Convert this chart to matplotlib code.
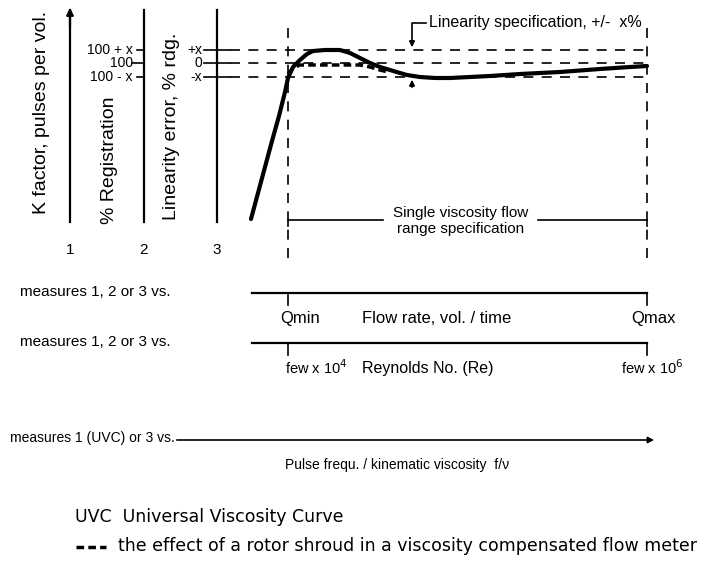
import matplotlib
matplotlib.use("Agg")
import matplotlib.pyplot as plt

plt.rcParams['font.family'] = ['Liberation Sans', 'DejaVu Sans']

# diagram coordinates are in pixels of the 707 x 569 picture (y grows downwards)
AXIS_X = [70, 144, 217]
AXIS_NUMBERS = ['1', '2', '3']
AXIS_TITLES = ['K factor, pulses per vol.', '% Registration', 'Linearity error, % rdg.']
AXIS_TITLE_POS = [(42, 112), (110, 160), (171, 126)]

REG_LEVELS = [50, 63, 77]
REG_LABELS = ['100 + x', '100', '100 - x']
LIN_LABELS = ['+x', '0', '-x']

# universal viscosity curve (solid)
uvc_x = [251, 258, 265, 272, 279, 285, 288, 293, 300, 307, 313, 325, 340, 350, 360,
         370, 380, 390, 400, 407, 420, 435, 450, 470, 490, 520, 560, 600, 630, 647]
uvc_y = [219, 193, 167, 141, 116, 92, 78, 67, 60, 54, 51, 50, 50, 53, 58,
         63, 67, 70, 73, 75, 77, 78, 78, 77, 76, 74, 72, 69, 67, 66]

# rotor shroud effect (dashed)
shroud_x = [288, 293, 300, 320, 345, 360, 370, 380, 388]
shroud_y = [74, 68, 65, 65, 65, 65, 67, 70, 72]

Q_MIN_X, Q_MAX_X = 288, 647
ROW_Y = [293, 343]
ROW_TEXT = ['measures 1, 2 or 3 vs.', 'measures 1, 2 or 3 vs.']
ROW_LOW = ['Qmin', 'few x 10$^4$']
ROW_MID = ['Flow rate, vol. / time', 'Reynolds No. (Re)']
ROW_HIGH = ['Qmax', 'few x 10$^6$']

fig = plt.figure(figsize=(7.07, 5.69), dpi=100)
ax = fig.add_axes([0, 0, 1, 1])
ax.set_xlim(0, 707)
ax.set_ylim(569, 0)
ax.axis('off')

k = dict(color='black')
dash = (0, (6, 5))

# three vertical axes
for x, n in zip(AXIS_X, AXIS_NUMBERS):
    ax.plot([x, x], [222, 10], lw=1.6, **k)
    ax.text(x, 250, n, ha='center', va='center', fontsize=11)
ax.annotate('', xy=(70, 5), xytext=(70, 30),
            arrowprops=dict(arrowstyle='-|>', color='black', lw=1.6, mutation_scale=10))
for (x, y), t in zip(AXIS_TITLE_POS, AXIS_TITLES):
    ax.text(x, y, t, rotation=90, ha='center', va='center', fontsize=14)

# tick labels on axis 2 and 3
for y, rl, ll in zip(REG_LEVELS, REG_LABELS, LIN_LABELS):
    ax.text(133, y, rl, ha='right', va='center', fontsize=10)
    ax.plot([132 if rl == '100' else 137, 144], [y, y], lw=1.2, **k)
    ax.text(202, y, ll, ha='right', va='center', fontsize=10)
    ax.plot([204, 230], [y, y], lw=1.2, **k)
    ax.plot([230, 647], [y, y], lw=1.2, ls=dash, **k)

# limits of the flow range
for x in [Q_MIN_X, Q_MAX_X]:
    ax.plot([x, x], [28, 266], lw=1.2, ls=dash, **k)

# curves
ax.plot(uvc_x, uvc_y, lw=3, solid_capstyle='round', solid_joinstyle='round', **k)
ax.plot(shroud_x, shroud_y, lw=2.5, ls=(0, (2.2, 1.2)), **k)

# linearity specification callout
ax.plot([426, 412, 412], [23, 23, 40], lw=1.2, **k)
ax.annotate('', xy=(412, 50), xytext=(412, 38),
            arrowprops=dict(arrowstyle='-|>', color='black', lw=1.2, mutation_scale=8))
ax.annotate('', xy=(412, 77), xytext=(412, 90),
            arrowprops=dict(arrowstyle='-|>', color='black', lw=1.2, mutation_scale=8))
ax.text(429, 22, 'Linearity specification, +/-  x%', ha='left', va='center', fontsize=11.5)

# single viscosity range
ax.plot([Q_MIN_X, Q_MIN_X, 383], [226, 220, 220], lw=1.2, **k)
ax.plot([538, Q_MAX_X, Q_MAX_X], [220, 220, 226], lw=1.2, **k)
ax.text(461, 221, 'Single viscosity flow\nrange specification', ha='center', va='center',
        fontsize=11, linespacing=1.15)

# the two scaled x axes
for y, t, lo, mid, hi in zip(ROW_Y, ROW_TEXT, ROW_LOW, ROW_MID, ROW_HIGH):
    ax.text(20, y - 1, t, ha='left', va='center', fontsize=11)
    ax.plot([252, Q_MAX_X], [y, y], lw=1.6, **k)
    for x in [Q_MIN_X, Q_MAX_X]:
        ax.plot([x, x], [y, y + 12], lw=1.2, **k)
    if lo == 'Qmin':
        ax.text(300, y + 25, lo, ha='center', va='center', fontsize=12)
        ax.text(653, y + 25, hi, ha='center', va='center', fontsize=12)
        ax.text(362, y + 25, mid, ha='left', va='center', fontsize=12)
    else:
        ax.text(285, y + 25, lo, ha='left', va='center', fontsize=10.5)
        ax.text(621, y + 25, hi, ha='left', va='center', fontsize=10.5)
        ax.text(362, y + 25, mid, ha='left', va='center', fontsize=11.5)

# third axis with arrow
ax.text(10, 438, 'measures 1 (UVC) or 3 vs.', ha='left', va='center', fontsize=10)
ax.annotate('', xy=(657, 440), xytext=(174, 440),
            arrowprops=dict(arrowstyle='-|>', color='black', lw=1.2, mutation_scale=9))
ax.text(285, 465, 'Pulse frequ. / kinematic viscosity  f/\u03bd', ha='left', va='center',
        fontsize=10)

# legend notes
ax.text(75, 517, 'UVC  Universal Viscosity Curve', ha='left', va='center',
        fontsize=12.5, family='DejaVu Sans')
ax.plot([76, 106], [547, 547], lw=2.5, ls=(0, (2.2, 1.2)), **k)
ax.text(118, 546, 'the effect of a rotor shroud in a viscosity compensated flow meter',
        ha='left', va='center', fontsize=12.5, family='DejaVu Sans')

fig.savefig('out.png', dpi=100)
